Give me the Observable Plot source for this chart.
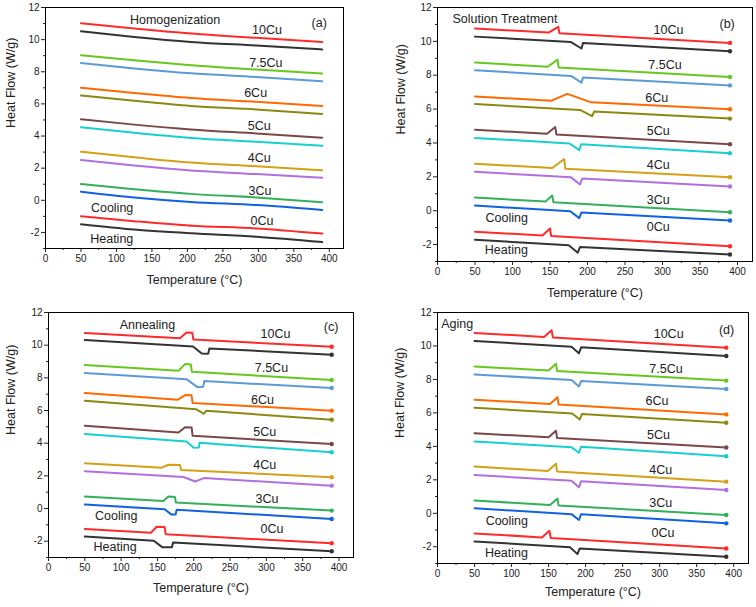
<!DOCTYPE html>
<html><head><meta charset="utf-8">
<script src="https://cdn.jsdelivr.net/npm/d3@7"></script>
<script src="https://cdn.jsdelivr.net/npm/@observablehq/plot@0.6"></script>
<style>
body{margin:0;background:#fff;}
#wrap{position:relative;width:756px;height:607px;font-family:"Liberation Sans",Arial,sans-serif;}
#wrap > div{position:absolute;}
</style></head><body><div id="wrap"></div>
<script>
// ---- series (cooling / heating per composition) ----
const seriesNames = ["10Cu cooling","10Cu heating","7.5Cu cooling","7.5Cu heating","6Cu cooling","6Cu heating",
  "5Cu cooling","5Cu heating","4Cu cooling","4Cu heating","3Cu cooling","3Cu heating","0Cu cooling","0Cu heating"];
const compLabels = ["10Cu","7.5Cu","6Cu","5Cu","4Cu","3Cu","0Cu"];
const panelTitles = ["Homogenization","Solution Treatment","Annealing","Aging"];
const panelTags = ["(a)","(b)","(c)","(d)"];
const xTickValues = [0,50,100,150,200,250,300,350,400];
const xMinorValues = [25,75,125,175,225,275,325,375];
const yTickValues = [-2,0,2,4,6,8,10,12];
const yMinorValues = [-3,-1,1,3,5,7,9,11];

// ---- values [temperature °C, heat flow W/g] ----
const curvesA = [
  [[50,11.02],[125,10.69],[205,10.38],[297,10.11],[390,9.86]],
  [[50,10.52],[125,10.17],[205,9.86],[297,9.63],[390,9.39]],
  [[50,9.03],[125,8.71],[205,8.41],[297,8.14],[390,7.89]],
  [[50,8.55],[125,8.21],[205,7.91],[297,7.68],[390,7.41]],
  [[50,7.01],[125,6.68],[205,6.37],[297,6.13],[390,5.87]],
  [[50,6.53],[125,6.19],[205,5.87],[297,5.65],[390,5.37]],
  [[50,5.04],[125,4.71],[205,4.41],[297,4.16],[390,3.90]],
  [[50,4.55],[125,4.20],[205,3.88],[297,3.64],[390,3.39]],
  [[50,3.02],[125,2.68],[205,2.35],[297,2.12],[390,1.87]],
  [[50,2.51],[125,2.16],[205,1.85],[297,1.63],[390,1.40]],
  [[50,1.01],[125,0.69],[205,0.40],[297,0.18],[390,-0.12]],
  [[50,0.54],[125,0.18],[205,-0.10],[297,-0.30],[390,-0.60]],
  [[50,-0.99],[125,-1.30],[205,-1.58],[297,-1.75],[390,-2.07]],
  [[50,-1.49],[125,-1.82],[205,-2.05],[297,-2.27],[390,-2.60]]
];
const curvesB = [
  [[50,10.76],[148,10.52],[161,10.86],[162.5,10.48],[390,9.91]],
  [[50,10.28],[178,9.96],[192,9.58],[194,9.90],[390,9.42]],
  [[50,8.75],[147,8.50],[160,8.92],[161.5,8.46],[390,7.90]],
  [[50,8.30],[178,7.96],[192,7.56],[194,7.86],[390,7.40]],
  [[50,6.74],[152,6.50],[173,6.90],[205,6.40],[390,5.99]],
  [[50,6.30],[190,5.95],[206,5.58],[209,5.86],[390,5.44]],
  [[50,4.78],[146,4.54],[157,4.94],[158.5,4.50],[390,3.92]],
  [[50,4.30],[176,3.97],[189,3.58],[191.5,3.92],[390,3.40]],
  [[50,2.77],[153,2.52],[169,3.05],[170.5,2.48],[390,1.98]],
  [[50,2.30],[178,1.97],[190,1.55],[193,1.90],[390,1.43]],
  [[50,0.78],[144,0.54],[153,0.90],[154.5,0.50],[390,-0.09]],
  [[50,0.30],[177,-0.03],[189,-0.44],[192,-0.10],[390,-0.58]],
  [[50,-1.24],[140,-1.47],[150,-1.05],[151.5,-1.50],[390,-2.10]],
  [[50,-1.72],[175,-2.04],[187,-2.48],[190,-2.15],[390,-2.59]]
];
const curvesC = [
  [[50,10.74],[181,10.42],[190,10.78],[198,10.76],[199.5,10.34],[390,9.90]],
  [[50,10.31],[199,9.92],[211,9.49],[220,9.48],[221.5,9.80],[390,9.41]],
  [[50,8.78],[179,8.43],[188,8.84],[196,8.82],[197.5,8.37],[390,7.87]],
  [[50,8.29],[190,7.92],[205,7.43],[213,7.45],[214.5,7.80],[390,7.38]],
  [[50,7.07],[178,6.66],[189,6.95],[197,6.93],[198.5,6.46],[390,5.99]],
  [[50,6.60],[203,6.08],[214,5.80],[217,5.98],[390,5.44]],
  [[50,5.07],[179,4.65],[188,4.97],[197,4.96],[198.5,4.45],[390,3.95]],
  [[50,4.56],[190,4.10],[200,3.72],[207,3.73],[208,4.02],[390,3.44]],
  [[50,2.77],[156,2.50],[165,2.68],[181,2.66],[182.5,2.36],[390,1.91]],
  [[50,2.28],[186,1.93],[202,1.65],[214,1.86],[390,1.40]],
  [[50,0.73],[158,0.46],[165,0.73],[174,0.71],[175.5,0.37],[390,-0.13]],
  [[50,0.24],[160,-0.05],[169,-0.36],[175,-0.37],[176.5,-0.08],[390,-0.64]],
  [[50,-1.25],[141,-1.48],[149,-1.12],[160,-1.14],[161.5,-1.58],[390,-2.13]],
  [[50,-1.72],[145,-1.97],[157,-2.38],[170,-2.37],[171.5,-2.08],[390,-2.62]]
];
const curvesD = [
  [[50,10.78],[144,10.54],[154,10.94],[156,10.50],[390,9.90]],
  [[50,10.30],[181,9.95],[191,9.56],[194,9.92],[390,9.40]],
  [[50,8.78],[150,8.53],[160,8.94],[161.5,8.50],[390,7.93]],
  [[50,8.30],[181,7.96],[191,7.58],[194,7.90],[390,7.43]],
  [[50,6.79],[152,6.53],[162,6.94],[163.5,6.50],[390,5.91]],
  [[50,6.31],[182,5.96],[192,5.60],[195,5.93],[390,5.41]],
  [[50,4.79],[150,4.54],[160,4.93],[161.5,4.50],[390,3.93]],
  [[50,4.29],[181,3.95],[191,3.62],[194,3.98],[390,3.41]],
  [[50,2.79],[149,2.53],[160,2.96],[161.5,2.50],[390,1.89]],
  [[50,2.29],[181,1.95],[191,1.55],[194,1.92],[390,1.39]],
  [[50,0.76],[152,0.50],[162,0.88],[163.5,0.47],[390,-0.10]],
  [[50,0.30],[181,-0.05],[191,-0.40],[194,-0.05],[390,-0.60]],
  [[50,-1.20],[141,-1.44],[151,-1.04],[153,-1.48],[390,-2.10]],
  [[50,-1.68],[179,-2.03],[189,-2.44],[192,-2.10],[390,-2.60]]
];

// ---- styles ----
const seriesColors = ["#ff2a2a","#333333","#66c81e","#5b9bd5","#ff6a00","#8a8a12","#7a4848","#18cfd0",
  "#d4a017","#b070e0","#33b05a","#1062e0","#ff2a2a","#333333"];

// ---- layout (annotation anchors in data units, margins in px) ----
const layout = [
  {curves:curvesA, dots:false, smooth:true, left:0, top:0, w:378, h:300, m:[7,35,52,45], ydx:-35, xdy:35,
   title:[119,11.25], tag:[375,11.02], cool:[64,-0.51], heat:[63,-2.42],
   comp:[[291,10.63],[287,8.55],[280,6.65],[285,4.61],[285,2.64],[286,0.59],[289,-1.30]]},
  {curves:curvesB, dots:true, smooth:false, left:378, top:0, w:378, h:300, m:[7,4,39,59], ydx:-37, xdy:35,
   title:[20,11.35], tag:[376,11.05], cool:[64,-0.44], heat:[63,-2.31],
   comp:[[288,10.70],[281,8.63],[277,6.68],[279,4.68],[279,2.67],[279,0.65],[279,-0.95]]},
  {curves:curvesC, dots:true, smooth:false, left:0, top:300, w:378, h:307, m:[12,25,50,48], ydx:-38, xdy:34,
   title:[98,11.25], tag:[379,11.12], cool:[64,-0.43], heat:[62,-2.37],
   comp:[[292,10.68],[284,8.60],[279,6.66],[282,4.66],[282,2.67],[285,0.59],[292,-1.25]]},
  {curves:curvesD, dots:true, smooth:false, left:378, top:300, w:378, h:307, m:[12,8,44,59], ydx:-38, xdy:32,
   title:[5,11.30], tag:[380,10.98], cool:[65,-0.44], heat:[64,-2.38],
   comp:[[292,10.70],[286,8.60],[281,6.70],[283,4.69],[286,2.59],[286,0.59],[289,-1.18]]}
];

const wrap = document.getElementById("wrap");
layout.forEach((p, k) => {
  const rows = [];
  p.curves.forEach((pts, i) => pts.forEach(([t, hf]) => rows.push({s: seriesNames[i], t, hf})));
  const ends = p.curves.map((pts, i) => ({s: seriesNames[i], t: pts[pts.length-1][0], hf: pts[pts.length-1][1]}));
  const notes = compLabels.map((c, i) => ({text: c, x: p.comp[i][0], y: p.comp[i][1]}));
  notes.push({text: panelTitles[k], x: p.title[0], y: p.title[1]});
  notes.push({text: panelTags[k], x: p.tag[0], y: p.tag[1]});
  notes.push({text: "Cooling", x: p.cool[0], y: p.cool[1]});
  notes.push({text: "Heating", x: p.heat[0], y: p.heat[1]});
  const chart = Plot.plot({
    width: p.w, height: p.h,
    marginTop: p.m[0], marginRight: p.m[1], marginBottom: p.m[2], marginLeft: p.m[3],
    style: {fontFamily: '"Liberation Sans", Arial, sans-serif', fontSize: "10px", color: "#222", background: "transparent"},
    x: {domain: [0, 420]},
    y: {domain: [-3, 12]},
    color: {domain: seriesNames, range: seriesColors},
    marks: [
      Plot.axisX({ticks: xTickValues, tickSize: 4, tickPadding: 2, tickFormat: d => String(d), label: null}),
      Plot.axisX({ticks: xMinorValues, tickSize: 2, tickFormat: () => "", label: null}),
      Plot.axisY({ticks: yTickValues, tickSize: 4, tickPadding: 2, tickFormat: d => String(d), label: null}),
      Plot.axisY({ticks: yMinorValues, tickSize: 2, tickFormat: () => "", label: null}),
      Plot.line(rows, {x: "t", y: "hf", z: "s", stroke: "s", strokeWidth: 2, curve: p.smooth ? "monotone-x" : "linear"}),
      p.dots ? Plot.dot(ends, {x: "t", y: "hf", fill: "s", r: 2.2}) : null,
      Plot.frame({stroke: "#000", strokeWidth: 1}),
      Plot.text(notes, {x: "x", y: "y", text: "text", textAnchor: "start", fontSize: 12.5, fill: "#222"}),
      Plot.text(["Temperature (°C)"], {frameAnchor: "bottom", dy: p.xdy, fontSize: 12.5, fill: "#222"}),
      Plot.text(["Heat Flow (W/g)"], {frameAnchor: "left", dx: p.ydx, rotate: -90, fontSize: 12.5, fill: "#222"})
    ]
  });
  const div = document.createElement("div");
  div.style.left = p.left + "px";
  div.style.top = p.top + "px";
  div.appendChild(chart);
  wrap.appendChild(div);
});
</script></body></html>
